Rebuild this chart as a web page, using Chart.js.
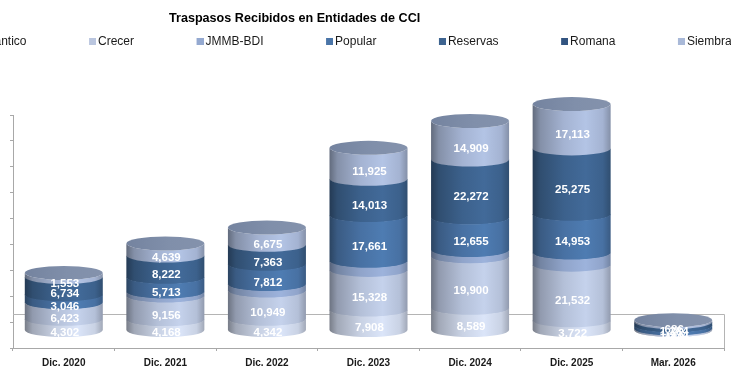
<!DOCTYPE html>
<html lang="es">
<head>
<meta charset="utf-8">
<title>Traspasos Recibidos en Entidades de CCI</title>
<script src="https://cdn.jsdelivr.net/npm/chart.js@4/dist/chart.umd.js"></script>
<style>
html,body{margin:0;padding:0;background:#fff;width:731px;height:367px;overflow:hidden;position:relative}
#wrap{position:absolute;left:-45px;top:0;width:900px;height:400px}
canvas{display:block}
</style>
</head>
<body>
<div id="wrap"><canvas id="c" width="900" height="400"></canvas></div>
<script>
const categories = ["Dic. 2020","Dic. 2021","Dic. 2022","Dic. 2023","Dic. 2024","Dic. 2025","Mar. 2026"];
const atlantico = [4302,4168,4342,7908,8589,3722,186];
const crecer    = [6423,9156,10949,15328,19900,21532,412];
const jmmbBdi   = [null,1560,2470,3550,2450,4700,null];
const popular   = [3046,5713,7812,17661,12655,14953,1234];
const reservas  = [6734,8222,7363,14013,22272,25275,1284];
const romana    = [null,null,null,null,null,null,null];
const siembra   = [1553,4639,6675,11925,14909,17113,686];
const chartTitle = "Traspasos Recibidos en Entidades de CCI";

const colors = {
  atlantico:"#CFD8EB", crecer:"#BAC6DF", jmmb:"#94A9D0", popular:"#4A75A8",
  reservas:"#3E6490", romana:"#325480", siembra:"#A9B9D8"
};
const LIFT = 18, RY = 7, FONT = "'Liberation Sans', Arial, sans-serif";

function shade(hex,f){
  const n=parseInt(hex.slice(1),16);
  const c=[n>>16&255,n>>8&255,n&255].map(v=>Math.max(0,Math.min(255,Math.round(v*f))));
  return `rgb(${c[0]},${c[1]},${c[2]})`;
}
function bodyFill(ctx,x,r,col){
  const g=ctx.createLinearGradient(x-r,0,x+r,0);
  g.addColorStop(0,shade(col,0.58));
  g.addColorStop(0.1,shade(col,0.78));
  g.addColorStop(0.4,shade(col,0.97));
  g.addColorStop(0.68,shade(col,1.06));
  g.addColorStop(0.9,shade(col,0.97));
  g.addColorStop(1,shade(col,0.78));
  return g;
}

class CylinderElement extends Chart.BarElement {
  draw(ctx){
    const {x,y,base,width}=this.getProps(['x','y','base','width']);
    if(!(Math.abs(base-y)>0.01)) return;
    const r=width/2, top=y-LIFT, bot=base-LIFT+0.6;
    ctx.save();
    ctx.beginPath();
    ctx.moveTo(x-r,top);
    ctx.ellipse(x,top,r,RY,0,Math.PI,0,true);
    ctx.lineTo(x+r,bot);
    ctx.ellipse(x,bot,r,RY,0,0,Math.PI,false);
    ctx.closePath();
    ctx.fillStyle=bodyFill(ctx,x,r,this.options.backgroundColor);
    ctx.fill();
    ctx.restore();
  }
}
CylinderElement.id='cylinder';
CylinderElement.defaults=Chart.BarElement.defaults;
class CylinderController extends Chart.BarController {}
CylinderController.id='cylinderBar';
CylinderController.defaults=Object.assign({},Chart.BarController.defaults,{dataElementType:'cylinder'});
CylinderController.overrides=Chart.BarController.overrides;
Chart.register(CylinderElement,CylinderController);

function swatch(color){
  const c=document.createElement('canvas');
  c.width=11;c.height=7;
  const x=c.getContext('2d');
  x.fillStyle=color;x.fillRect(4,0,7,7);
  return c;
}

const placeBlocks={
  id:'placeBlocks',
  afterLayout(chart){
    const t=chart.titleBlock, l=chart.legend;
    t.left=214; t.right=620; t.top=11; t.bottom=25;
    l.left=-46; l.right=900; l.top=-27; l.bottom=70;
  }
};
const floorWall={
  id:'floorWall',
  beforeDatasetsDraw(chart){
    const {ctx,chartArea:a}=chart;
    const y=Math.round(a.bottom-34)+0.5, rx=Math.round(a.right)+0.5;
    ctx.save();
    ctx.strokeStyle='#B4B4B4';ctx.lineWidth=1;
    ctx.beginPath();
    ctx.moveTo(a.left,y);ctx.lineTo(rx,y);ctx.lineTo(rx,a.bottom);
    ctx.stroke();
    ctx.restore();
  }
};
const lidsAndLabels={
  id:'lidsAndLabels',
  afterDatasetsDraw(chart){
    const {ctx,data}=chart;
    ctx.save();
    categories.forEach((_,i)=>{
      let topEl=null;
      data.datasets.forEach((d,k)=>{ if(d.data[i]) topEl=chart.getDatasetMeta(k).data[i]; });
      if(!topEl) return;
      const {x,y,width}=topEl, r=width/2, cy=y-LIFT;
      const g=ctx.createLinearGradient(x-r,cy,x+r,cy);
      g.addColorStop(0,'#74839F');g.addColorStop(0.55,'#808FAA');g.addColorStop(1,'#8492AC');
      ctx.beginPath();ctx.ellipse(x,cy,r,RY,0,0,Math.PI*2);
      ctx.fillStyle=g;ctx.fill();
    });
    ctx.fillStyle='#fff';ctx.font="bold 11.5px "+FONT;
    ctx.textAlign='center';ctx.textBaseline='middle';
    data.datasets.forEach((d,k)=>{
      if(d.hideValues) return;
      chart.getDatasetMeta(k).data.forEach((el,i)=>{
        const v=d.data[i];
        if(!v) return;
        ctx.fillText(v.toLocaleString('en-US'),el.x+1,(el.y+el.base)/2-LIFT+8.5);
      });
    });
    ctx.restore();
  }
};

const mk=(label,data,color,hideValues)=>({label,data,backgroundColor:color,hideValues:!!hideValues,clip:false,
  categoryPercentage:1,barPercentage:0.768});

new Chart(document.getElementById('c'),{
  type:'cylinderBar',
  data:{labels:categories,datasets:[
    mk("Atlántico",atlantico,colors.atlantico),
    mk("Crecer",crecer,colors.crecer),
    mk("JMMB-BDI",jmmbBdi,colors.jmmb,true),
    mk("Popular",popular,colors.popular),
    mk("Reservas",reservas,colors.reservas),
    mk("Romana",romana,colors.romana),
    mk("Siembra",siembra,colors.siembra)
  ]},
  options:{
    responsive:false,animation:false,
    layout:{padding:{left:55,right:131,top:115-15-1,bottom:25}},
    plugins:{
      tooltip:{enabled:false},
      title:{display:true,text:chartTitle,align:'start',color:'#000',padding:0,
        font:{family:FONT,size:12.6,weight:'bold'}},
      legend:{display:true,position:'top',align:'start',maxHeight:1,
        labels:{usePointStyle:true,pointStyleWidth:3,padding:62.5,color:'#1a1a1a',
          font:{family:FONT,size:12},
          generateLabels(chart){
            return Chart.defaults.plugins.legend.labels.generateLabels(chart)
              .map(it=>Object.assign(it,{pointStyle:swatch(it.fillStyle),hidden:false}));
          }}}
    },
    scales:{
      x:{type:'category',stacked:true,
        border:{color:'#A8A8A8'},
        grid:{drawOnChartArea:false,tickLength:3,color:'#A8A8A8'},
        ticks:{color:'#1a1a1a',padding:6,maxRotation:0,autoSkip:false,font:{family:FONT,size:10,weight:'bold'}}},
      y:{type:'linear',stacked:true,min:0,max:90000,
        border:{color:'#A8A8A8'},
        grid:{drawOnChartArea:false,tickLength:3,color:'#A8A8A8'},
        ticks:{display:false,stepSize:10000}}
    }
  },
  plugins:[placeBlocks,floorWall,lidsAndLabels]
});
</script>
</body>
</html>
